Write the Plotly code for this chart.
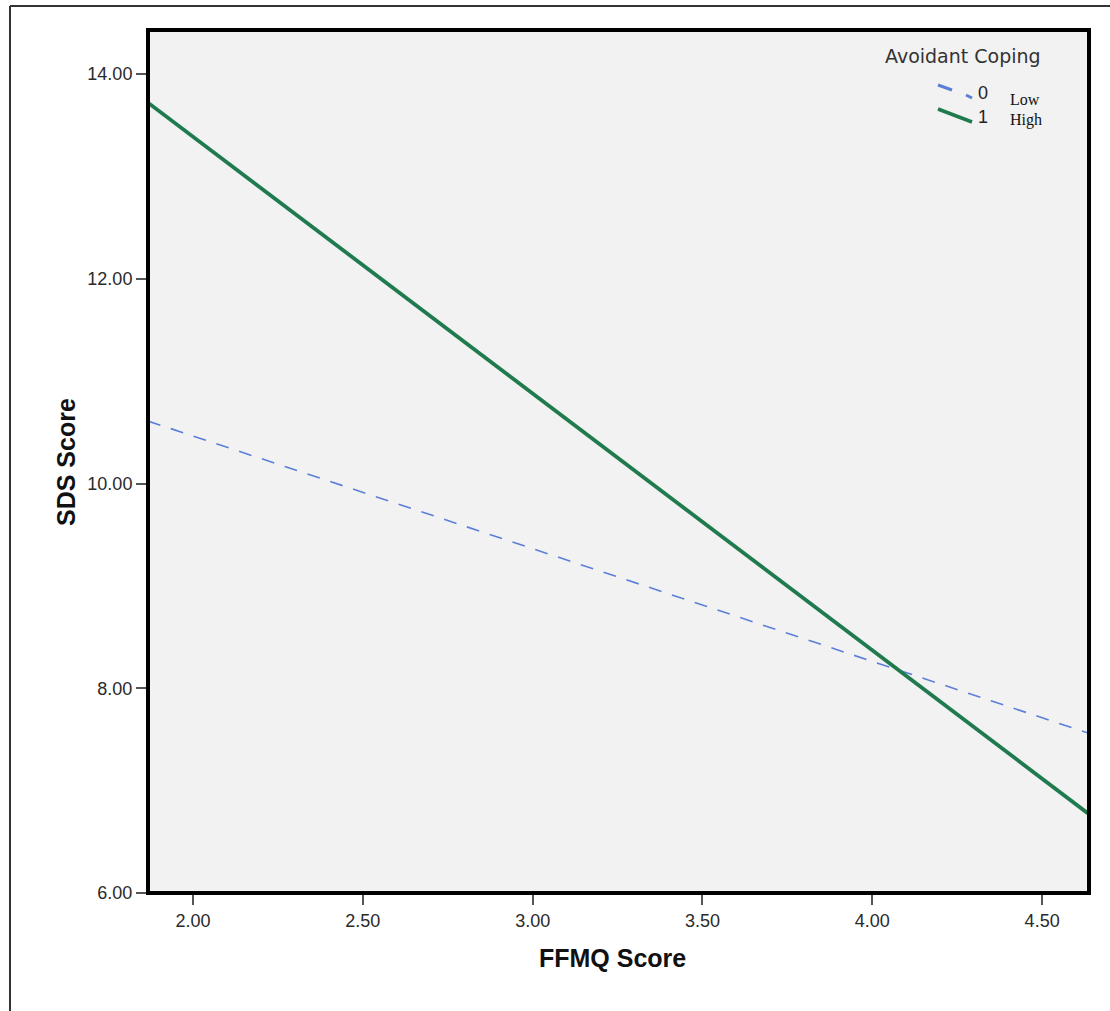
import plotly.graph_objects as go

# Data (fitted lines)
ffmq_x = [1.8675, 4.638]
sds_low = [10.61, 7.56]    # Avoidant Coping = 0 (Low)
sds_high = [13.72, 6.77]   # Avoidant Coping = 1 (High)

x_ticks = [2.0, 2.5, 3.0, 3.5, 4.0, 4.5]
x_tick_labels = ["2.00", "2.50", "3.00", "3.50", "4.00", "4.50"]
y_ticks = [6, 8, 10, 12, 14]
y_tick_labels = ["6.00", "8.00", "10.00", "12.00", "14.00"]

W, H = 1110, 1011
L, R, T, B = 148, 21, 30, 118
PW, PH = W - L - R, H - T - B

def px(x):
    return (x - L) / PW

def py(y):
    return 1 - (y - T) / PH

GREEN = "#1f7a4d"
BLUE = "#5b7fd8"

fig = go.Figure()
fig.add_trace(go.Scatter(x=ffmq_x, y=sds_low, mode="lines",
                         line=dict(color=BLUE, width=1.6, dash="13px,11px"),
                         showlegend=False, hoverinfo="skip"))
fig.add_trace(go.Scatter(x=ffmq_x, y=sds_high, mode="lines",
                         line=dict(color=GREEN, width=3.8),
                         showlegend=False, hoverinfo="skip"))

tickfont = dict(family="Liberation Sans, Arial, sans-serif", size=18, color="#2a2a2a")

fig.update_layout(
    width=W, height=H,
    margin=dict(l=L, r=R, t=T, b=B, pad=0),
    paper_bgcolor="white",
    plot_bgcolor="#f2f2f2",
    xaxis=dict(range=[1.8675, 4.638], tickvals=x_ticks, ticktext=x_tick_labels,
               showgrid=False, zeroline=False, ticks="outside", ticklen=11,
               tickwidth=1.5, tickcolor="#555", tickfont=tickfont, showline=False),
    yaxis=dict(range=[6.0, 14.43], tickvals=y_ticks, ticktext=y_tick_labels,
               showgrid=False, zeroline=False, ticks="outside", ticklen=11,
               tickwidth=1.5, tickcolor="#555", tickfont=tickfont, showline=False),
)

shapes = [
    # thick plot frame
    dict(type="rect", xref="paper", yref="paper", x0=0, y0=0, x1=1, y1=1,
         line=dict(color="black", width=4), layer="above"),
    # outer figure frame (top and left edges)
    dict(type="line", xref="paper", yref="paper", x0=px(10), y0=py(6), x1=px(1110), y1=py(6),
         line=dict(color="#333", width=2)),
    dict(type="line", xref="paper", yref="paper", x0=px(10), y0=py(6), x1=px(10), y1=py(1011),
         line=dict(color="#333", width=2)),
    # legend symbols
    dict(type="line", xref="paper", yref="paper", x0=px(938), y0=py(85), x1=px(952), y1=py(90),
         line=dict(color=BLUE, width=3)),
    dict(type="line", xref="paper", yref="paper", x0=px(966), y0=py(95), x1=px(972), y1=py(98),
         line=dict(color=BLUE, width=3)),
    dict(type="line", xref="paper", yref="paper", x0=px(938), y0=py(109), x1=px(972), y1=py(122),
         line=dict(color=GREEN, width=3.5)),
]
fig.update_layout(shapes=shapes)

ann = [
    dict(text="<b>SDS Score</b>", x=px(66), y=py(462), xref="paper", yref="paper",
         showarrow=False, textangle=-90, xanchor="center", yanchor="middle",
         font=dict(family="Liberation Sans, Arial, sans-serif", size=25, color="#111")),
    dict(text="<b>FFMQ Score</b>", x=px(612), y=py(958), xref="paper", yref="paper",
         showarrow=False, xanchor="center", yanchor="middle",
         font=dict(family="Liberation Sans, Arial, sans-serif", size=25, color="#111")),
    dict(text="Avoidant Coping", x=px(963), y=py(56), xref="paper", yref="paper",
         showarrow=False, xanchor="center", yanchor="middle",
         font=dict(family="DejaVu Sans, sans-serif", size=19, color="#333")),
    dict(text="0", x=px(976), y=py(93), xref="paper", yref="paper",
         showarrow=False, xanchor="left", yanchor="middle",
         font=dict(family="Liberation Sans, Arial, sans-serif", size=18, color="#222")),
    dict(text="1", x=px(976), y=py(117), xref="paper", yref="paper",
         showarrow=False, xanchor="left", yanchor="middle",
         font=dict(family="Liberation Sans, Arial, sans-serif", size=18, color="#222")),
    dict(text="Low", x=px(1008), y=py(100), xref="paper", yref="paper",
         showarrow=False, xanchor="left", yanchor="middle",
         font=dict(family="Liberation Serif, Times New Roman, serif", size=16, color="#111")),
    dict(text="High", x=px(1008), y=py(120), xref="paper", yref="paper",
         showarrow=False, xanchor="left", yanchor="middle",
         font=dict(family="Liberation Serif, Times New Roman, serif", size=16, color="#111")),
]
fig.update_layout(annotations=ann)

fig.write_html("out.html", config={"displayModeBar": False},
               post_script="document.body.style.margin='0';document.body.style.padding='0';")
